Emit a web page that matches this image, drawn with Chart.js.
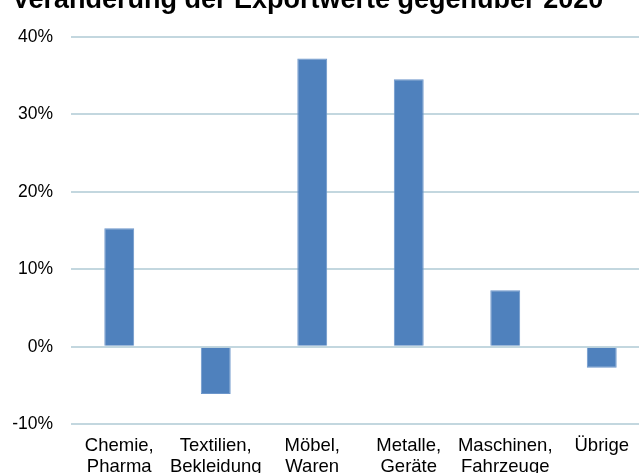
<!DOCTYPE html>
<html>
<head>
<meta charset="utf-8">
<script src="https://cdn.jsdelivr.net/npm/chart.js@4/dist/chart.umd.min.js"></script>
<style>
    html, body { margin: 0; padding: 0; background: #fff; overflow: hidden; width: 639px; height: 473px; }
    #wrap { position: absolute; left: 0; top: -16px; width: 660px; height: 505px; }
</style>
</head>
<body>
<div id="wrap"><canvas id="chartBar" width="660" height="505"></canvas></div>
<script>
// Exportwerte, Veränderung gegenüber 2020

const titleText = "Veränderung der Exportwerte gegenüber 2020";
const categories = [
    ["Chemie,", "Pharma"],
    ["Textilien,", "Bekleidung"],
    ["Möbel,", "Waren"],
    ["Metalle,", "Geräte"],
    ["Maschinen,", "Fahrzeuge"],
    ["Übrige"],
];
const changePct = [15.3, -6.1, 37.2, 34.5, 7.3, -2.7];
const yTicks = [-10, 0, 10, 20, 30, 40];

const fontFamily = "'Liberation Sans', Arial, sans-serif";

const dataBarChart = {
    labels: categories,
    datasets: [{
        label: "Veränderung",
        backgroundColor: "#4f81bd",
        borderColor: "#6c96cb",
        borderWidth: 1,
        data: changePct,
        barPercentage: 0.31,
        categoryPercentage: 1,
    }, ],
};

const configBarChart = {
    type: "bar",
    data: dataBarChart,
    options: {
        responsive: false,
        animation: false,
        layout: {
            padding: { left: 12, right: 10, top: 0, bottom: 0 },
        },
        plugins: {
            legend: { display: false },
            tooltip: { enabled: false },
            title: {
                display: true,
                text: titleText,
                align: "start",
                color: "#000",
                font: { family: fontFamily, size: 27, weight: "bold", lineHeight: 1.2 },
                padding: { top: 0, bottom: 20.3 },
            },
        },
        scales: {
            x: {
                grid: { display: false, drawTicks: false },
                border: { display: false },
                ticks: {
                    color: "#000",
                    padding: 11,
                    maxRotation: 0,
                    autoSkip: false,
                    font: { family: fontFamily, size: 18.5, lineHeight: "21.4px" },
                },
            },
            y: {
                min: yTicks[0],
                max: yTicks[yTicks.length - 1],
                afterBuildTicks: (axis) => {
                    axis.ticks = yTicks.map((v) => ({ value: v }));
                },
                afterFit: (axis) => {
                    axis.width = 59;
                },
                grid: {
                    color: "#c3d7df",
                    lineWidth: 2,
                    drawTicks: false,
                },
                border: { display: false },
                ticks: {
                    color: "#000",
                    padding: 18,
                    font: { family: fontFamily, size: 17.5 },
                    callback: (v) => v + "%",
                },
            },
        },
    },
};

var chartBar = new Chart(
    document.getElementById("chartBar"),
    configBarChart
);
</script>
</body>
</html>
